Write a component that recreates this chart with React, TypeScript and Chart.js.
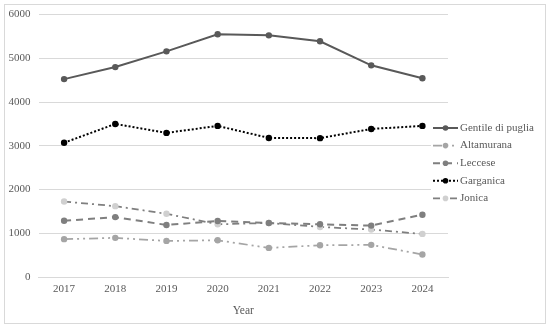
import React, { useEffect, useRef } from "react";
import { Chart, registerables } from "chart.js";

Chart.register(...registerables);

const years = ["2017", "2018", "2019", "2020", "2021", "2022", "2023", "2024"];
const gentile = [4525, 4800, 5160, 5550, 5525, 5390, 4840, 4545];
const altamurana = [865, 895, 825, 840, 665, 725, 735, 515];
const leccese = [1285, 1370, 1190, 1280, 1235, 1205, 1175, 1425];
const garganica = [3070, 3500, 3295, 3455, 3180, 3175, 3385, 3455];
const jonica = [1725, 1620, 1445, 1205, 1235, 1145, 1085, 985];
const yTicks = [0, 1000, 2000, 3000, 4000, 5000, 6000];

const FONT = "'Liberation Serif', 'Times New Roman', serif";
const TXT = "#595959";

const legendPlugin = {
  id: "sideLegend",
  afterDraw(chart: any) {
    const ctx = chart.ctx;
    const ds = chart.data.datasets;
    const x0 = 433;
    const y0 = 128;
    const step = 17.6;
    ctx.save();
    ctx.fillStyle = "#ffffff";
    ctx.fillRect(x0 - 2, y0 - 10, 546 - x0, step * ds.length + 4);
    ds.forEach((d: any, i: number) => {
      const y = y0 + i * step;
      ctx.strokeStyle = d.borderColor;
      ctx.lineWidth = d.borderWidth;
      ctx.setLineDash(d.borderDash || []);
      ctx.beginPath();
      ctx.moveTo(x0, y);
      ctx.lineTo(x0 + 25, y);
      ctx.stroke();
      ctx.setLineDash([]);
      ctx.fillStyle = d.pointBackgroundColor;
      ctx.beginPath();
      ctx.arc(x0 + 12.5, y, 2.8, 0, Math.PI * 2);
      ctx.fill();
      ctx.fillStyle = TXT;
      ctx.font = `11px ${FONT}`;
      ctx.textBaseline = "middle";
      ctx.textAlign = "left";
      ctx.fillText(d.label, x0 + 27, y);
    });
    ctx.restore();
  },
};

export default function App() {
  const ref = useRef<HTMLCanvasElement>(null);
  useEffect(() => {
    document.body.style.margin = "0";
    const mk = (label: string, data: number[], color: string, pcolor: string, width: number, dash: number[]) => ({
      label,
      data,
      borderColor: color,
      backgroundColor: pcolor,
      pointBackgroundColor: pcolor,
      pointBorderColor: pcolor,
      pointBorderWidth: 0,
      pointRadius: 3.2,
      borderWidth: width,
      borderDash: dash,
      tension: 0,
      fill: false,
    });
    const chart = new Chart(ref.current!, {
      type: "line",
      data: {
        labels: years,
        datasets: [
          mk("Gentile di puglia", gentile, "#595959", "#595959", 2, []),
          mk("Altamurana", altamurana, "#a5a5a5", "#a5a5a5", 1.75, [9, 4, 2, 4, 2, 4]),
          mk("Leccese", leccese, "#7f7f7f", "#7f7f7f", 2, [7, 5]),
          mk("Garganica", garganica, "#000000", "#000000", 2, [2, 2]),
          mk("Jonica", jonica, "#7f7f7f", "#d0d0d0", 1.75, [7, 4, 2, 4]),
        ],
      },
      options: {
        animation: false,
        responsive: true,
        maintainAspectRatio: false,
        layout: { padding: { left: 0, top: 13, right: 102, bottom: 4 } },
        plugins: { legend: { display: false }, tooltip: { enabled: false } },
        scales: {
          x: {
            offset: true,
            grid: { display: false, drawTicks: false, offset: true },
            border: { display: true, color: "#d9d9d9", width: 1 },
            ticks: { color: TXT, font: { family: FONT, size: 11 }, padding: 6 },
            title: { display: true, text: "Year", color: TXT, font: { family: FONT, size: 11.5 }, padding: { top: 6, bottom: 6 } },
            afterFit: (s: any) => { s.height = 47; },
          },
          y: {
            min: 0,
            max: 6000,
            afterBuildTicks: (s: any) => { s.ticks = yTicks.map((v) => ({ value: v })); },
            grid: { color: "#d9d9d9", lineWidth: 1, drawTicks: false },
            border: { display: false },
            ticks: { color: TXT, font: { family: FONT, size: 11 }, padding: 8, callback: (v: any) => String(v) },
            afterFit: (s: any) => { s.width = 38.5; },
          },
        },
      },
      plugins: [legendPlugin],
    });
    return () => chart.destroy();
  }, []);
  return (
    <div style={{ position: "relative", width: 550, height: 328 }}>
      <div style={{ position: "absolute", left: 4, top: 4, width: 540, height: 318, border: "1px solid #d9d9d9", boxSizing: "content-box" }} />
      <div style={{ position: "absolute", left: 0, top: 0, width: 550, height: 328 }}>
        <canvas ref={ref} />
      </div>
    </div>
  );
}
